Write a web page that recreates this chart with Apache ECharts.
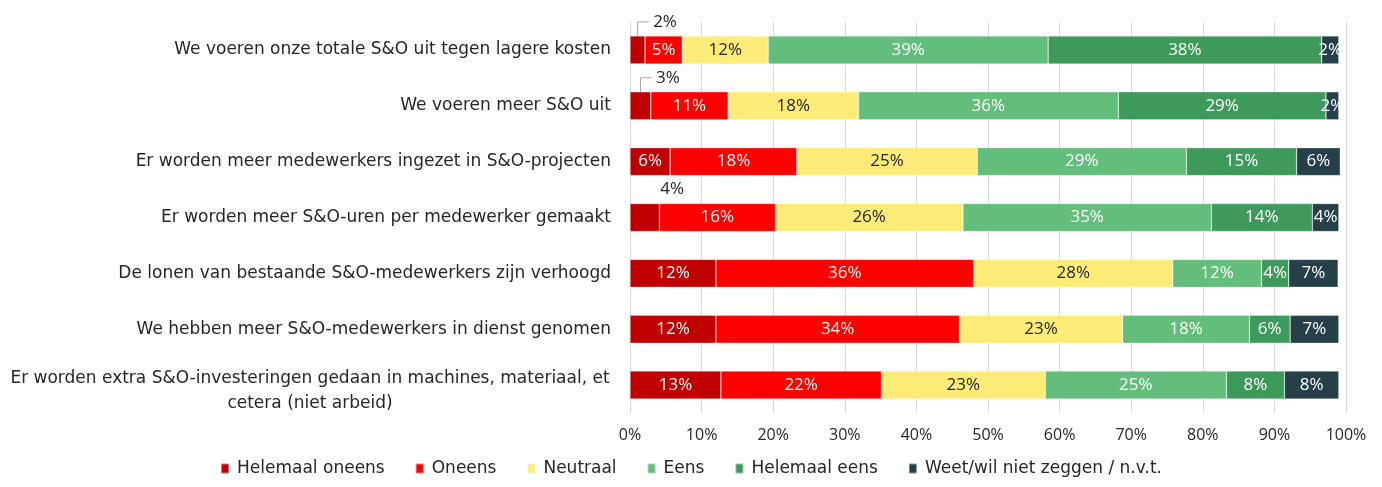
<!DOCTYPE html>
<html>
<head>
<meta charset="utf-8">
<script src="https://cdn.jsdelivr.net/npm/echarts@6/dist/echarts.min.js"></script>
<style>
html,body{margin:0;padding:0;background:#fff;}
#chart{width:1382px;height:487px;}
</style>
</head>
<body>
<div id="chart"></div>
<script>
const categories = [
  'We voeren onze totale S&O uit tegen lagere kosten',
  'We voeren meer S&O uit',
  'Er worden meer medewerkers ingezet in S&O-projecten',
  'Er worden meer S&O-uren per medewerker gemaakt',
  'De lonen van bestaande S&O-medewerkers zijn verhoogd',
  'We hebben meer S&O-medewerkers in dienst genomen',
  'Er worden extra S&O-investeringen gedaan in machines, materiaal, et\ncetera (niet arbeid)'
];
const seriesNames = ['Helemaal oneens', 'Oneens', 'Neutraal', 'Eens', 'Helemaal eens', 'Weet/wil niet zeggen / n.v.t.'];
const helemaalOneens = [2.1, 2.9, 5.6, 4.1, 12.0, 12.0, 12.7];
const oneens         = [5.2, 10.8, 17.7, 16.2, 36.0, 34.0, 22.4];
const neutraal       = [12.0, 18.2, 25.2, 26.2, 27.8, 22.8, 22.9];
const eens           = [39.1, 36.3, 29.2, 34.7, 12.4, 17.7, 25.3];
const helemaalEens   = [38.2, 29.0, 15.4, 14.1, 3.8, 5.7, 8.1];
const weetNiet       = [2.4, 1.8, 6.1, 3.7, 6.9, 6.8, 7.6];
const xTicks = [0, 10, 20, 30, 40, 50, 60, 70, 80, 90, 100];

const allValues = [helemaalOneens, oneens, neutraal, eens, helemaalEens, weetNiet];
const colors = ['#C00000', '#FF0000', '#FDEB78', '#63BE7B', '#3D9A5B', '#254048'];
const labelColors = ['#ffffff', '#ffffff', '#262626', '#ffffff', '#ffffff', '#ffffff'];
const TEXT_FONT = '"DejaVu Sans"';
const NUM_FONT = '"Open Sans"';

const chart = echarts.init(document.getElementById('chart'), null, {renderer: 'canvas'});

const series = allValues.map((vals, si) => ({
  name: seriesNames[si],
  type: 'bar',
  stack: 'total',
  barWidth: 28,
  itemStyle: {color: colors[si], borderColor: 'rgba(255,255,255,0.45)', borderWidth: 0.6},
  label: {
    show: true,
    position: 'inside',
    color: labelColors[si],
    fontFamily: NUM_FONT,
    fontSize: 17,
    formatter: p => Math.round(p.value) + '%'
  },
  labelLayout: si === 0 ? function (params) {
    const v = vals[params.dataIndex];
    if (v < 5) {
      return {
        x: params.rect.x + params.rect.width / 2 + 23,
        y: params.rect.y - 14,
        align: 'center',
        verticalAlign: 'middle'
      };
    }
    return {};
  } : undefined,
  data: vals.map((v) => {
    if (si === 0 && v < 5) {
      return {
        value: v,
        label: {
          color: '#262626',
          formatter: p => '{g|}' + Math.round(p.value) + '%',
          rich: {g: {width: 9}}
        },
        labelLine: {show: v < 3.5, length2: 11, lineStyle: {color: '#A6A6A6', width: 1}}
      };
    }
    return v;
  })
}));

chart.setOption({
  animation: false,
  textStyle: {fontFamily: TEXT_FONT},
  grid: {left: 630, right: 36, top: 22, bottom: 74, containLabel: false},
  legend: {
    bottom: 5,
    left: 'center',
    icon: 'rect',
    itemWidth: 8,
    itemHeight: 10,
    itemGap: 30,
    textStyle: {fontFamily: TEXT_FONT, fontSize: 17, color: '#262626', padding: [0, 0, 0, 3]},
    data: seriesNames
  },
  xAxis: {
    type: 'value',
    min: xTicks[0],
    max: xTicks[xTicks.length - 1],
    interval: 10,
    axisLine: {show: false},
    axisTick: {show: false},
    splitLine: {show: true, lineStyle: {color: '#D9D9D9', width: 1}},
    axisLabel: {
      fontFamily: NUM_FONT, fontSize: 16, color: '#262626', margin: 14,
      formatter: v => v + '%'
    }
  },
  yAxis: {
    type: 'category',
    inverse: true,
    data: categories.map(c => c.indexOf('\n') >= 0 ? {value: c, textStyle: {padding: [12, 0, 0, 0]}} : c),
    axisLine: {show: true, lineStyle: {color: '#D9D9D9'}},
    axisTick: {show: false},
    axisLabel: {
      fontFamily: TEXT_FONT, fontSize: 17, color: '#262626', margin: 19,
      lineHeight: 25,
      formatter: function (v) {
        if (v.indexOf('\n') >= 0) {
          return v.split('\n').map(s => '{c|' + s + '}').join('\n');
        }
        return v;
      },
      rich: {c: {width: 602, align: 'center', fontFamily: TEXT_FONT, fontSize: 17, color: '#262626', lineHeight: 25}}
    }
  },
  series: series
});
</script>
</body>
</html>
